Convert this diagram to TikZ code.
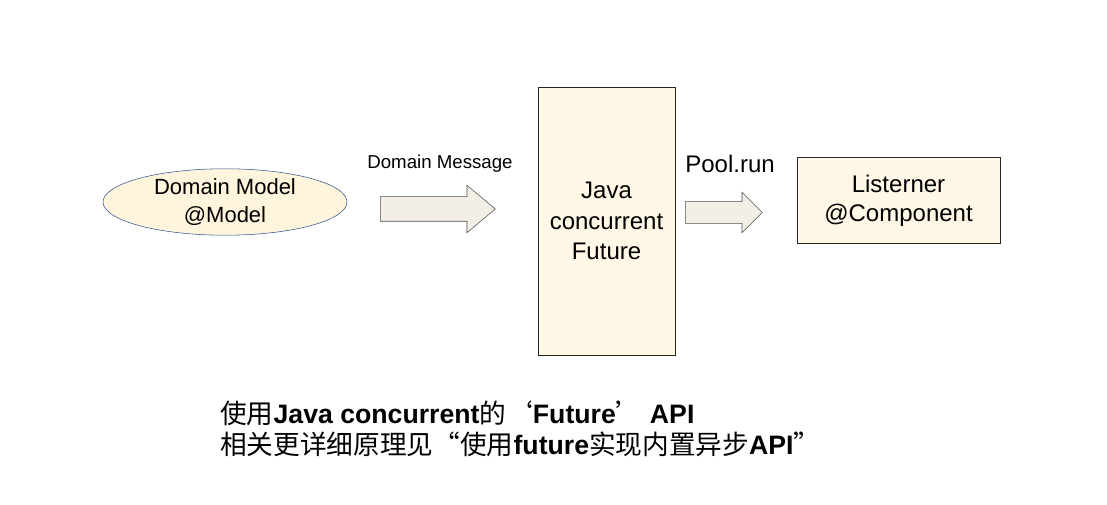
\documentclass[tikz,border=0pt]{standalone}
\usepackage{fontspec}
\setmainfont{Liberation Sans}
\newfontfamily\cjk{Noto Sans CJK SC}
\usetikzlibrary{
    positioning,
    shapes.geometric,
    shapes.arrows
}
\definecolor{ModelFill}{RGB}{255,245,220}
\definecolor{ModelBlue}{RGB}{47,82,143}
\definecolor{BoxFill}{RGB}{255,248,230}
\definecolor{ArrowFill}{RGB}{243,238,230}
\definecolor{ArrowLine}{RGB}{80,80,80}

\begin{document}
\begin{tikzpicture}[
    x=0.75pt, y=-0.75pt,
    model/.style={ellipse, draw=ModelBlue, fill=ModelFill, inner sep=0pt,
        minimum width=183pt, minimum height=45pt, align=center,
        font=\fontsize{16.5}{21}\selectfont},
    box/.style={rectangle, draw=black!85, fill=BoxFill, inner sep=0pt,
        align=center, font=\fontsize{18}{22.5}\selectfont},
    flow/.style={single arrow, draw=ArrowLine, fill=ArrowFill,
        inner xsep=0pt, anchor=tail},
    tag/.style={inner sep=0pt}
]

\useasboundingbox (0,0) rectangle (1107,505);

\coordinate (T1) at (380,209);
\coordinate (T2) at (685,212.5);

\node[model] (model) at (225,202) {Domain Model\\@Model};

\node[box, minimum width=102.75pt, minimum height=201pt, font=\fontsize{18}{23}\selectfont]
    (future) at (606.5,221) {Java\\concurrent\\Future};

\node[box, minimum width=152.25pt, minimum height=64.5pt, font=\fontsize{18}{21.75}\selectfont]
    (listener) at (898.5,200.5) {Listerner\\@Component};

\node[flow, inner ysep=9pt, minimum height=86.25pt,
      single arrow head extend=8.6pt, single arrow tip angle=80]
    (msg) at (T1) {};
\node[flow, inner ysep=7.9pt, minimum height=57.75pt,
      single arrow head extend=7.1pt, single arrow tip angle=90]
    (run) at (T2) {};

\node[tag, font=\fontsize{14}{16}\selectfont] (msgtag) at (440,164) {Domain Message};
\node[tag, font=\fontsize{18}{20}\selectfont] (runtag) at (730,164) {Pool.run};

% bottom note
\node[tag, anchor=base west, font=\fontsize{20}{24}\selectfont] (note1) at (220,424)
    {{\cjk 使用}\textbf{Java concurrent}{\cjk 的‘}\textbf{Future}{\cjk ’} \textbf{API}};
\node[tag, anchor=base west, font=\fontsize{20}{24}\selectfont] (note2) at (220,455)
    {{\cjk 相关更详细原理见“使用}\textbf{future}{\cjk 实现内置异步}\textbf{API}{\cjk ”}};

\end{tikzpicture}
\end{document}
